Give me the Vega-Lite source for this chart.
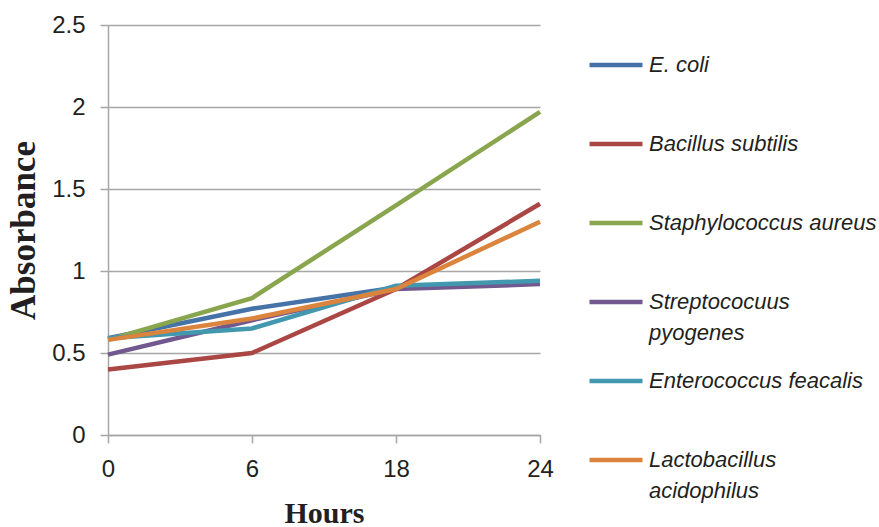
{
  "$schema": "https://vega.github.io/schema/vega-lite/v6.json",
  "autosize": "none",
  "width": 432,
  "height": 410,
  "padding": {"left": 108, "top": 25, "right": 339, "bottom": 92},
  "background": "white",
  "data": {
    "values": [
      {"series": "E. coli", "hours": 0, "absorbance": 0.59},
      {"series": "E. coli", "hours": 6, "absorbance": 0.77},
      {"series": "E. coli", "hours": 18, "absorbance": 0.90},
      {"series": "E. coli", "hours": 24, "absorbance": 0.93},
      {"series": "Bacillus subtilis", "hours": 0, "absorbance": 0.40},
      {"series": "Bacillus subtilis", "hours": 6, "absorbance": 0.50},
      {"series": "Bacillus subtilis", "hours": 18, "absorbance": 0.89},
      {"series": "Bacillus subtilis", "hours": 24, "absorbance": 1.41},
      {"series": "Staphylococcus  aureus", "hours": 0, "absorbance": 0.58},
      {"series": "Staphylococcus  aureus", "hours": 6, "absorbance": 0.835},
      {"series": "Staphylococcus  aureus", "hours": 18, "absorbance": 1.40},
      {"series": "Staphylococcus  aureus", "hours": 24, "absorbance": 1.97},
      {"series": "Streptococuus pyogenes", "hours": 0, "absorbance": 0.49},
      {"series": "Streptococuus pyogenes", "hours": 6, "absorbance": 0.70},
      {"series": "Streptococuus pyogenes", "hours": 18, "absorbance": 0.89},
      {"series": "Streptococuus pyogenes", "hours": 24, "absorbance": 0.92},
      {"series": "Enterococcus feacalis", "hours": 0, "absorbance": 0.59},
      {"series": "Enterococcus feacalis", "hours": 6, "absorbance": 0.65},
      {"series": "Enterococcus feacalis", "hours": 18, "absorbance": 0.91},
      {"series": "Enterococcus feacalis", "hours": 24, "absorbance": 0.94},
      {"series": "Lactobacillus acidophilus", "hours": 0, "absorbance": 0.58},
      {"series": "Lactobacillus acidophilus", "hours": 6, "absorbance": 0.71},
      {"series": "Lactobacillus acidophilus", "hours": 18, "absorbance": 0.89},
      {"series": "Lactobacillus acidophilus", "hours": 24, "absorbance": 1.30}
    ]
  },
  "mark": {"type": "line", "strokeWidth": 4.5, "strokeCap": "butt", "strokeJoin": "miter"},
  "encoding": {
    "x": {
      "field": "hours",
      "type": "ordinal",
      "sort": [0, 6, 18, 24],
      "scale": {"type": "point", "padding": 0},
      "axis": {
        "title": "Hours",
        "titleFont": "Liberation Serif",
        "titleFontWeight": "bold",
        "titleFontSize": 30,
        "titleColor": "#231f20",
        "titlePadding": 17,
        "labelFont": "Liberation Sans",
        "labelFontSize": 24,
        "labelColor": "#231f20",
        "labelAngle": 0,
        "labelPadding": 14,
        "domainColor": "#a6a6a6",
        "domainWidth": 1.5,
        "tickColor": "#a6a6a6",
        "tickSize": 8,
        "tickWidth": 1.5,
        "grid": false
      }
    },
    "y": {
      "field": "absorbance",
      "type": "quantitative",
      "scale": {"domain": [0, 2.5], "nice": false},
      "axis": {
        "title": "Absorbance",
        "titleFont": "Liberation Serif",
        "titleFontWeight": "bold",
        "titleFontSize": 35,
        "titleColor": "#231f20",
        "titlePadding": 10,
        "values": [0, 0.5, 1, 1.5, 2, 2.5],
        "format": ".1~f",
        "labelFont": "Liberation Sans",
        "labelFontSize": 24,
        "labelColor": "#231f20",
        "labelPadding": 15,
        "domainColor": "#a6a6a6",
        "domainWidth": 1.5,
        "tickColor": "#a6a6a6",
        "tickSize": 8,
        "tickWidth": 1.5,
        "grid": true,
        "gridColor": "#a6a6a6",
        "gridWidth": 1.5
      }
    },
    "color": {
      "field": "series",
      "type": "nominal",
      "sort": ["E. coli", "Bacillus subtilis", "Staphylococcus  aureus", "Streptococuus pyogenes", "Enterococcus feacalis", "Lactobacillus acidophilus"],
      "scale": {
        "domain": ["E. coli", "Bacillus subtilis", "Staphylococcus  aureus", "Streptococuus pyogenes", "Enterococcus feacalis", "Lactobacillus acidophilus"],
        "range": ["#4572A7", "#AA4643", "#89A54E", "#71588F", "#4198AF", "#DB843D"]
      },
      "legend": {
        "title": null,
        "orient": "none",
        "legendX": 479,
        "legendY": 11,
        "padding": 0,
        "symbolType": "stroke",
        "symbolSize": 2809,
        "symbolStrokeWidth": 4.5,
        "labelFont": "Liberation Sans",
        "labelFontStyle": "italic",
        "labelFontSize": 22,
        "labelColor": "#231f20",
        "labelLimit": 400,
        "labelOffset": 4,
        "labelBaseline": "middle",
        "gridAlign": "all",
        "rowPadding": 8,
        "labelExpr": "datum.label == 'Streptococuus pyogenes' ? ['Streptococuus', 'pyogenes'] : datum.label == 'Lactobacillus acidophilus' ? ['Lactobacillus', 'acidophilus'] : datum.label",
        "encode": {
          "labels": {"update": {"lineHeight": {"value": 31}}}
        }
      }
    }
  },
  "config": {"view": {"stroke": null}}
}
